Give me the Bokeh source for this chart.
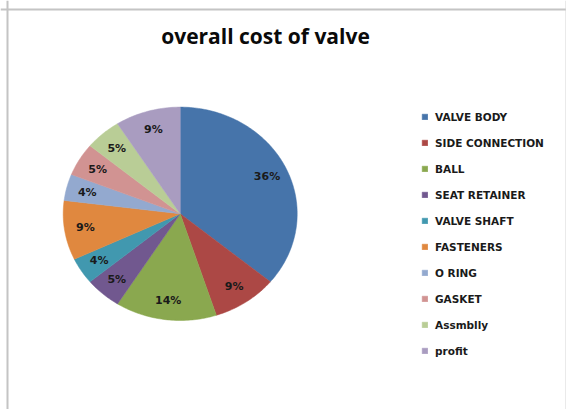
import numpy as np
from bokeh.plotting import figure
from bokeh.models import Range1d, Legend, LegendItem, Label, Span
from bokeh.core.properties import value
from bokeh.embed import file_html
from bokeh.resources import INLINE

# ---- data ----
categories = ["VALVE BODY", "SIDE CONNECTION", "BALL", "SEAT RETAINER", "VALVE SHAFT",
              "FASTENERS", "O RING", "GASKET", "Assmblly", "profit"]
percent = [36, 9, 14, 5, 4, 9, 4, 5, 5, 9]
colors = ["#4674AA", "#AC4845", "#8AA84F", "#71588F", "#4198AF",
          "#E0883F", "#93A9CF", "#D19392", "#B9CD96", "#A99CC0"]
title_text = "overall cost of valve"

# ---- layout ----
W, H = 566, 409
p = figure(width=W, height=H, x_range=Range1d(0, W), y_range=Range1d(0, H),
           output_backend="svg", toolbar_location=None, min_border=0)
p.axis.visible = False
p.grid.visible = False
p.outline_line_color = None
p.background_fill_color = "white"
p.border_fill_color = "white"

cx, cy, rx, ry = 179.7, 195.7, 117.0, 106.7
total = float(sum(percent))
start = np.pi / 2
items = []
lx, ly, lt = [], [], []
for cat, v, c in zip(categories, percent, colors):
    sweep = 2 * np.pi * v / total
    end = start - sweep
    n = max(int(np.degrees(sweep)), 2) + 1
    a = np.linspace(start, end, n)
    xs = np.concatenate([[cx], cx + rx * np.cos(a)])
    ys = np.concatenate([[cy], cy + ry * np.sin(a)])
    r = p.patch(xs, ys, fill_color=c, line_color=c, line_width=0.5)
    items.append(LegendItem(label=cat, renderers=[r]))
    mid = (start + end) / 2
    lx.append(cx + 0.82 * rx * np.cos(mid))
    ly.append(cy + 0.82 * ry * np.sin(mid))
    lt.append(f"{v}%")
    start = end

p.text(x=lx, y=ly, text=lt, text_font=value("DejaVu Sans"), text_font_style="bold",
       text_font_size="11px", text_align="center", text_baseline="middle",
       text_color="#1a1a1a")

legend = Legend(items=items, location=(421, 52), orientation="vertical",
                glyph_width=7, glyph_height=7, label_standoff=7,
                label_text_font="DejaVu Sans", label_text_font_style="bold",
                label_text_font_size="10.5px", label_text_color="#1a1a1a",
                spacing=13, label_height=13, padding=0, margin=0,
                border_line_color=None, background_fill_alpha=0)
p.add_layout(legend)

p.add_layout(Label(x=265, y=374, text=title_text, text_font="Open Sans",
                   text_font_style="bold", text_font_size="21px",
                   text_align="center", text_baseline="middle", text_color="#0a0a0a"))

p.add_layout(Span(location=7, dimension="height", line_color="#c4c4c4", line_width=2))
p.add_layout(Span(location=400, dimension="width", line_color="#c4c4c4", line_width=2))
p.add_layout(Span(location=565.5, dimension="height", line_color="#d4d4d4", line_width=1))

open("out.html", "w").write(file_html(p, INLINE))
